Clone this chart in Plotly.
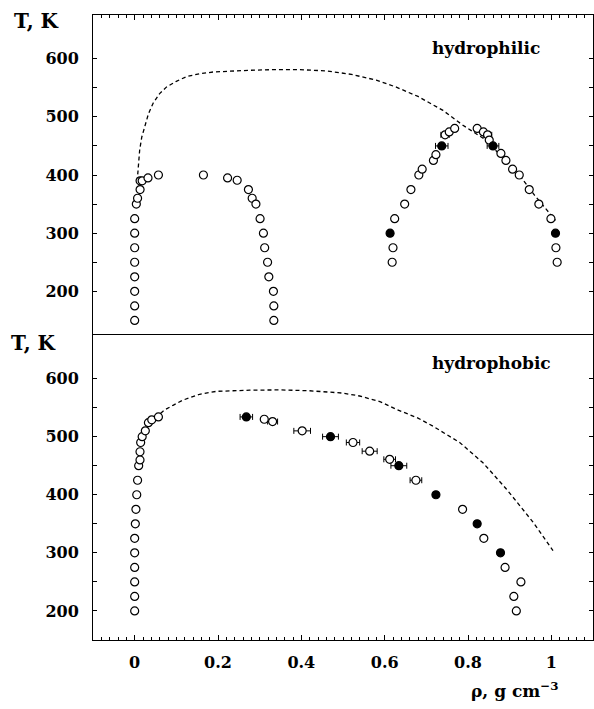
import plotly.graph_objects as go

# ---------------- data ----------------
# hydrophilic panel (top)
philic_open_x = [0, 0, 0, 0, 0, 0, 0, 0, 0.004, 0.007, 0.013, 0.013, 0.018, 0.032, 0.057,
                 0.165, 0.223, 0.246, 0.273, 0.282, 0.291, 0.301, 0.309, 0.312, 0.319, 0.322, 0.333, 0.334, 0.334,
                 0.618, 0.620, 0.624, 0.648, 0.663, 0.682, 0.690, 0.717, 0.723, 0.745, 0.755, 0.768,
                 0.822, 0.837, 0.847, 0.851, 0.879, 0.891, 0.907, 0.923, 0.947, 0.970, 0.999, 1.011, 1.014]
philic_open_T = [150, 175, 200, 225, 250, 275, 300, 325, 350, 360, 375, 390, 390, 395, 400,
                 400, 395, 391, 375, 360, 350, 325, 300, 275, 250, 225, 200, 175, 150,
                 250, 275, 325, 350, 375, 400, 410, 425, 435, 469, 474, 480,
                 480, 474, 469, 460, 437, 425, 410, 400, 375, 350, 325, 275, 250]
philic_open_err = [None] * 38 + [0.01, None, None, None, None, 0.01] + [None] * 10
philic_filled_x = [0.613, 0.737, 0.860, 1.010]
philic_filled_T = [300, 450, 450, 300]
philic_filled_err = [None, 0.015, 0.014, None]
philic_binodal_x = [0.006, 0.009, 0.012, 0.017, 0.024, 0.033, 0.044, 0.060, 0.076, 0.100, 0.124, 0.155,
                    0.188, 0.230, 0.276, 0.330, 0.396, 0.460, 0.520, 0.580, 0.628, 0.680, 0.740, 0.787,
                    0.843, 0.880, 0.923, 0.960, 0.990, 1.010]
philic_binodal_T = [389, 415, 443, 465, 483, 505, 523, 540, 551, 561, 569, 574,
                    577, 579, 580, 581, 581, 579, 573, 563, 551, 535, 511, 486,
                    460, 432, 400, 365, 338, 322]

# hydrophobic panel (bottom)
phobic_open_x = [0, 0, 0, 0, 0, 0, 0.0016, 0.003, 0.005, 0.007, 0.0096, 0.0128, 0.0128, 0.0144, 0.018,
                 0.0256, 0.033, 0.041, 0.057,
                 0.311, 0.331, 0.402, 0.524, 0.564, 0.612, 0.675, 0.787, 0.838, 0.889, 0.927, 0.910, 0.916]
phobic_open_T = [200, 225, 250, 275, 300, 325, 350, 375, 400, 425, 450, 460, 474, 490, 500,
                 510, 524, 529, 534,
                 530, 526, 510, 490, 475, 461, 425, 375, 325, 275, 250, 225, 200]
phobic_open_err = [None] * 19 + [None, 0.012, 0.02, 0.016, 0.018, 0.014, 0.014, None, None, None, None, None, None]
phobic_filled_x = [0.268, 0.470, 0.634, 0.723, 0.822, 0.878]
phobic_filled_T = [534, 500, 450, 400, 350, 300]
phobic_filled_err = [0.015, 0.019, 0.019, None, None, None]
phobic_binodal_x = [0.062, 0.072, 0.092, 0.116, 0.156, 0.196, 0.236, 0.276, 0.350, 0.420, 0.500, 0.540,
                    0.590, 0.628, 0.680, 0.716, 0.780, 0.836, 0.892, 0.956, 1.004]
phobic_binodal_T = [540, 546, 554, 563, 573, 578, 579, 580, 580.5, 579, 575, 570,
                    560, 547, 532, 518, 490, 455, 410, 353, 304]

y_tickvals = [200, 300, 400, 500, 600]
y_ticktext = ["200", "300", "400", "500", "600"]
y_minorvals = [250, 350, 450, 550]
x_tickvals = [0, 0.2, 0.4, 0.6, 0.8, 1.0]
x_ticktext = ["0", "0.2", "0.4", "0.6", "0.8", "1"]

# ---------------- figure ----------------
FONT = "DejaVu Serif"
fig = go.Figure()

def add_panel(xa, ya, ox, oT, oerr, fx, fT, ferr, bx, bT):
    fig.add_trace(go.Scatter(x=bx, y=bT, mode="lines", xaxis=xa, yaxis=ya,
                             line=dict(color="black", width=1.3, dash="4px,3px"),
                             showlegend=False, hoverinfo="skip"))
    fig.add_trace(go.Scatter(x=ox, y=oT, mode="markers", xaxis=xa, yaxis=ya,
                             marker=dict(symbol="circle", size=8, color="white",
                                         line=dict(color="black", width=1.2)),
                             error_x=dict(type="data", array=oerr, color="black", thickness=1, width=3),
                             showlegend=False))
    fig.add_trace(go.Scatter(x=fx, y=fT, mode="markers", xaxis=xa, yaxis=ya,
                             marker=dict(symbol="circle", size=8, color="black",
                                         line=dict(color="black", width=1.2)),
                             error_x=dict(type="data", array=ferr, color="black", thickness=1, width=3),
                             showlegend=False))

add_panel("x", "y", philic_open_x, philic_open_T, philic_open_err,
          philic_filled_x, philic_filled_T, philic_filled_err, philic_binodal_x, philic_binodal_T)
add_panel("x2", "y2", phobic_open_x, phobic_open_T, phobic_open_err,
          phobic_filled_x, phobic_filled_T, phobic_filled_err, phobic_binodal_x, phobic_binodal_T)

tickfont = dict(family=FONT, size=16, color="black", weight="bold")
common_x = dict(range=[-0.1, 1.1], tickmode="array", tickvals=x_tickvals, ticktext=x_ticktext,
                ticks="inside", ticklen=5, tickwidth=1, tickcolor="black",
                minor=dict(ticks="inside", dtick=0.02, tick0=0, ticklen=3, tickwidth=1, tickcolor="black"),
                showline=True, linecolor="black", linewidth=1, showgrid=False, zeroline=False,
                tickfont=tickfont)
common_y = dict(tickmode="array", tickvals=y_tickvals, ticktext=y_ticktext,
                ticks="inside", ticklen=4, tickwidth=1, tickcolor="black",
                minor=dict(ticks="inside", tickmode="array", tickvals=y_minorvals,
                           ticklen=4, tickwidth=1, tickcolor="black"),
                showline=True, linecolor="black", linewidth=1, mirror="ticks",
                showgrid=False, zeroline=False, tickfont=tickfont, ticklabelstandoff=10)

DIV = 305 / 625
fig.update_layout(
    width=594, height=709,
    margin=dict(l=93, r=1, t=15, b=69),
    paper_bgcolor="white", plot_bgcolor="white",
    xaxis=dict(common_x, anchor="y", side="top", showticklabels=False),
    yaxis=dict(common_y, domain=[DIV, 1], range=[125, 675], anchor="x"),
    xaxis2=dict(common_x, anchor="y2", side="bottom", mirror=True, ticklabelstandoff=8),
    yaxis2=dict(common_y, domain=[0, DIV], range=[150, 675], anchor="x2"),
)

lab = dict(family=FONT, size=17, color="black", weight="bold")
fig.add_annotation(text="hydrophilic", xref="paper", yref="paper", x=0.786, y=0.947,
                   xanchor="center", yanchor="middle", showarrow=False, font=lab)
fig.add_annotation(text="hydrophobic", xref="paper", yref="paper", x=0.797, y=0.443,
                   xanchor="center", yanchor="middle", showarrow=False, font=lab)
fig.add_annotation(text="T, K", xref="paper", yref="paper", x=-0.113, y=0.991,
                   xanchor="center", yanchor="middle", showarrow=False, font=dict(lab, size=20))
fig.add_annotation(text="T, K", xref="paper", yref="paper", x=-0.119, y=0.475,
                   xanchor="center", yanchor="middle", showarrow=False, font=dict(lab, size=20))
fig.add_annotation(text="ρ, g cm<sup>−3</sup>", xref="paper", yref="paper", x=0.936, y=-0.101,
                   xanchor="right", yanchor="bottom", showarrow=False, font=lab)

fig.write_html("out.html")
